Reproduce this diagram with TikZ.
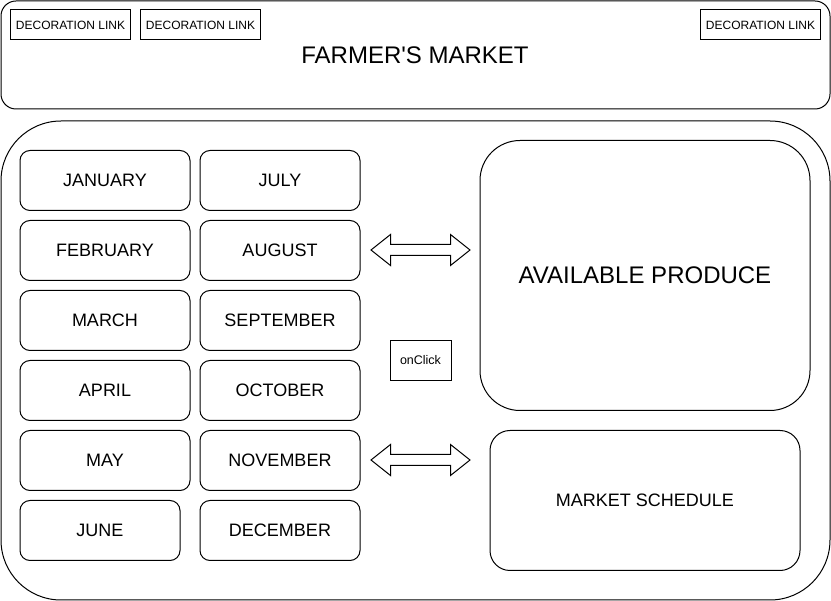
\documentclass[tikz,border=0pt]{standalone}
\usepackage{fontspec}
\setmainfont{Liberation Sans}
\begin{document}
\begin{tikzpicture}[x=1pt,y=-1pt,
  panel/.style={draw=black,line width=1pt,fill=white,inner sep=0pt},
  monthbox/.style={panel,rounded corners=10pt,minimum height=60pt,font=\fontsize{18}{20}\selectfont},
  linkbox/.style={panel,minimum width=120pt,minimum height=30pt,font=\fontsize{12}{14}\selectfont},
  blockarrow/.style={draw=black,line width=1pt,fill=white,line join=miter}
]
\useasboundingbox (0,0) rectangle (831,601);

% header bar
\node[panel,rounded corners=15pt,minimum width=829pt,minimum height=108pt] (header) at (415.5,55) {};
\node[linkbox] (link1) at (70.5,25) {DECORATION LINK};
\node[linkbox] (link2) at (200.5,25) {DECORATION LINK};
\node[linkbox] (link3) at (760.5,25) {DECORATION LINK};
\node[font=\fontsize{24}{28}\selectfont] (title) at (415,55.5) {FARMER\textquotesingle S MARKET};

% main body
\node[panel,rounded corners=60pt,minimum width=829pt,minimum height=479pt] (body) at (415.5,360.5) {};

% months, first column
\node[monthbox,minimum width=170pt] (jan) at (105,180.5) {JANUARY};
\node[monthbox,minimum width=170pt] (feb) at (105,250.5) {FEBRUARY};
\node[monthbox,minimum width=170pt] (mar) at (105,320.5) {MARCH};
\node[monthbox,minimum width=170pt] (apr) at (105,390.5) {APRIL};
\node[monthbox,minimum width=170pt] (may) at (105,460.5) {MAY};
\node[monthbox,minimum width=160pt] (jun) at (100,530.5) {JUNE};

% months, second column
\node[monthbox,minimum width=160pt] (jul) at (280,180.5) {JULY};
\node[monthbox,minimum width=160pt] (aug) at (280,250.5) {AUGUST};
\node[monthbox,minimum width=160pt] (sep) at (280,320.5) {SEPTEMBER};
\node[monthbox,minimum width=160pt] (oct) at (280,390.5) {OCTOBER};
\node[monthbox,minimum width=160pt] (nov) at (280,460.5) {NOVEMBER};
\node[monthbox,minimum width=160pt] (dec) at (280,530.5) {DECEMBER};

% right-hand panels
\node[panel,rounded corners=40pt,minimum width=330pt,minimum height=270pt,font=\fontsize{24}{28}\selectfont] (produce) at (645,275.5) {AVAILABLE PRODUCE};
\node[panel,rounded corners=20pt,minimum width=310pt,minimum height=140pt,font=\fontsize{18}{20}\selectfont] (schedule) at (645,500.5) {MARKET SCHEDULE};

% event label
\node[panel,minimum width=61pt,minimum height=40pt,font=\fontsize{12.5}{14}\selectfont] (click) at (420.5,360.5) {onClick};

% two-way block arrows
\coordinate (a1) at (420.5,250);
\coordinate (a2) at (420.5,460);
\foreach \c in {a1,a2}{
  \draw[blockarrow] ([shift={(-49.5,0)}]\c) -- ([shift={(-30,-15.5)}]\c) -- ([shift={(-30,-5.5)}]\c)
    -- ([shift={(30,-5.5)}]\c) -- ([shift={(30,-15.5)}]\c) -- ([shift={(49.5,0)}]\c)
    -- ([shift={(30,15.5)}]\c) -- ([shift={(30,5.5)}]\c) -- ([shift={(-30,5.5)}]\c)
    -- ([shift={(-30,15.5)}]\c) -- cycle;
}
\end{tikzpicture}
\end{document}
